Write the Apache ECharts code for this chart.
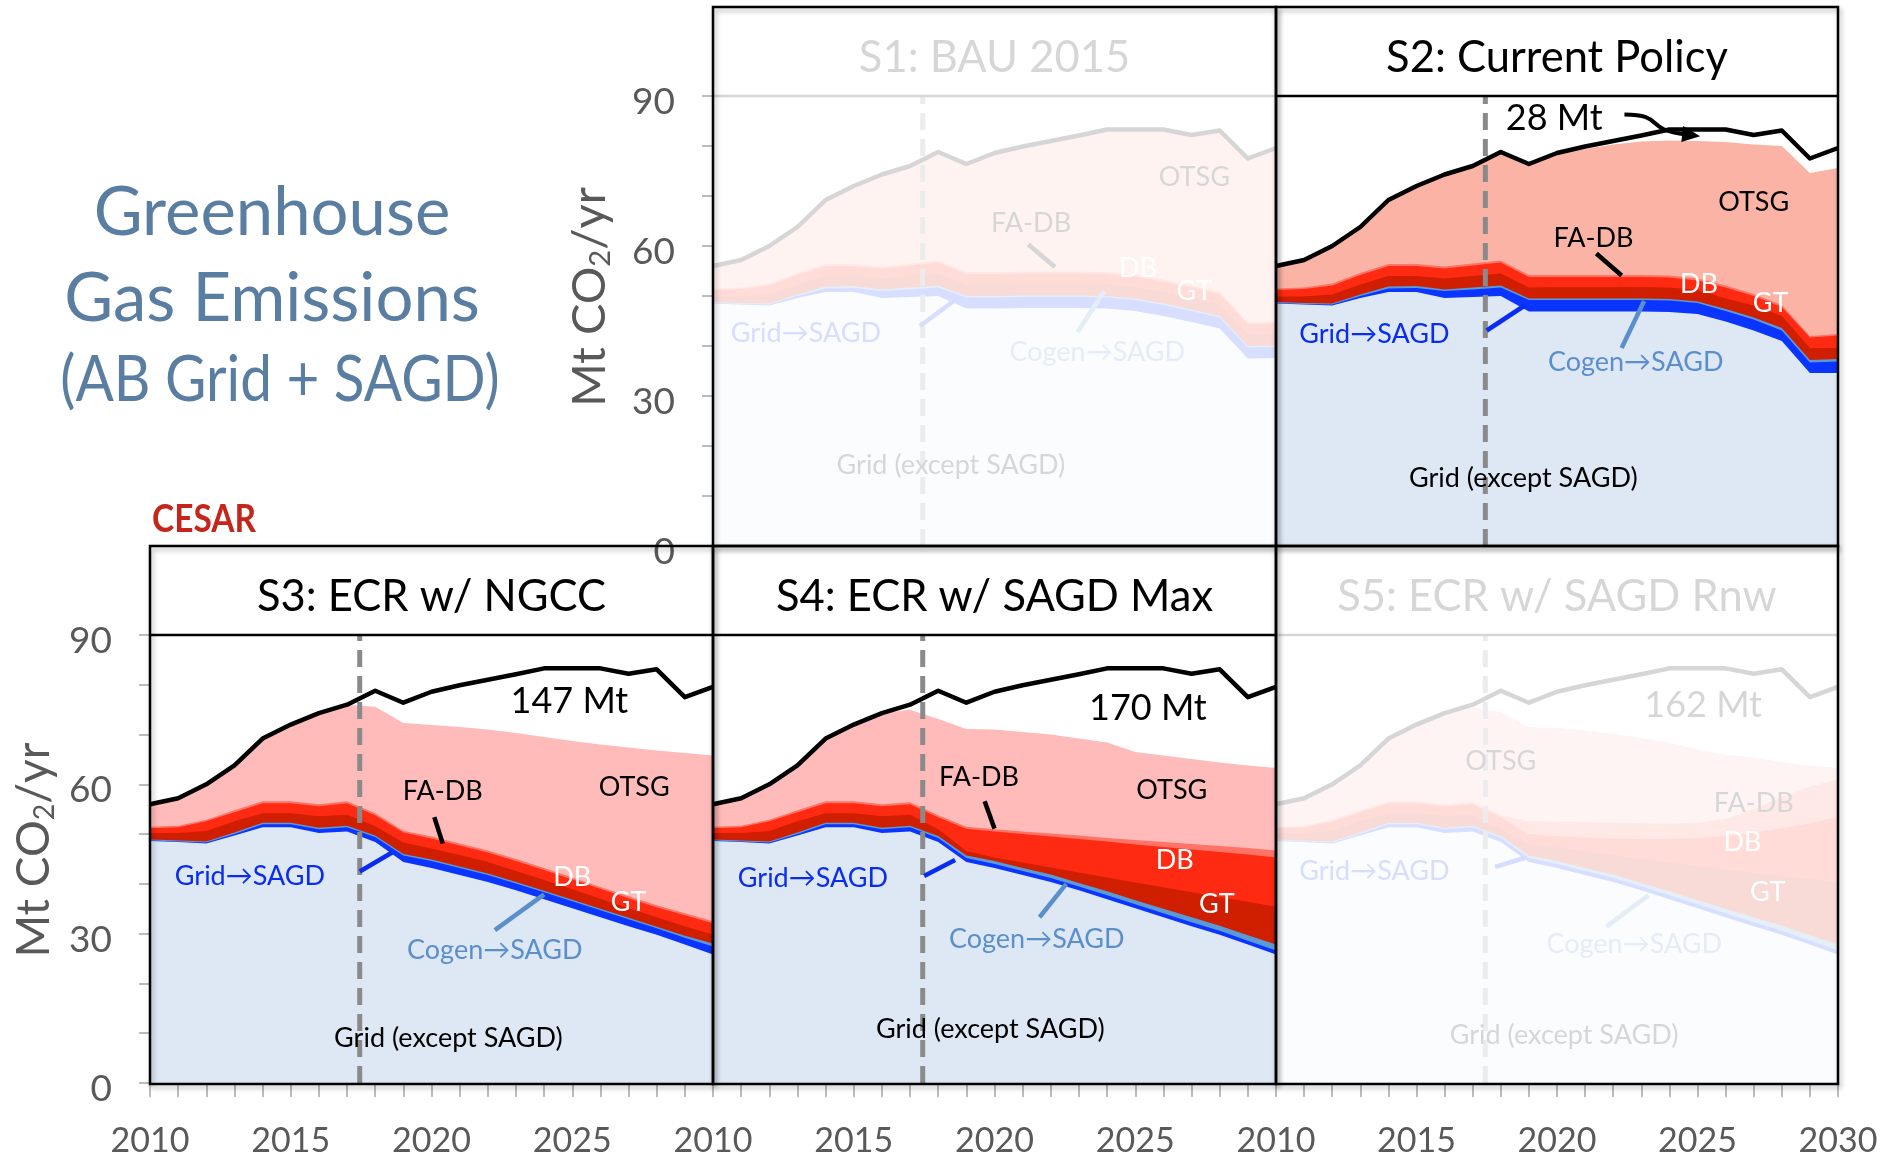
<!DOCTYPE html>
<html>
<head>
<meta charset="utf-8">
<script src="https://cdn.jsdelivr.net/npm/echarts/dist/echarts.min.js"></script>
<style>
  html, body { margin: 0; padding: 0; background: #fff; }
  #chart { width: 1898px; height: 1158px; }
</style>
</head>
<body>
<div id="chart"></div>
<script>
// years on the x axis
const years = [2010, 2011, 2012, 2013, 2014, 2015, 2016, 2017, 2018, 2019, 2020,
  2021, 2022, 2023, 2024, 2025, 2026, 2027, 2028, 2029, 2030]
const cutoverYear = 2017.45

// BAU total (black line, same in every panel)
const bauTotal = [56.0, 57.2, 60.0, 63.8, 69.2, 72.0, 74.3, 76.0, 78.8, 76.4, 78.6, 79.9, 81.0, 82.1, 83.3, 83.3, 83.3, 82.2, 83.1, 77.5, 79.6]

// top edge of each band (Mt CO2/yr), bottom band first
// S1: BAU 2015
const s1Grid = [48.5, 48.3, 48.1, 49.6, 50.8, 50.8, 49.6, 49.8, 50.0, 47.5, 47.5, 47.6, 47.6, 47.6, 47.5, 47.0, 46.0, 44.8, 43.5, 37.5, 37.6]
const s1GridSagd = [48.6, 48.4, 48.3, 50.0, 51.5, 51.6, 51.0, 51.3, 51.7, 49.7, 49.7, 49.8, 49.8, 49.8, 49.7, 49.2, 48.2, 47.0, 45.7, 39.7, 39.8]
const s1Cogen = [48.8, 48.6, 48.5, 50.3, 51.9, 52.0, 51.3, 51.7, 52.1, 50.0, 50.0, 50.1, 50.1, 50.1, 50.0, 49.5, 48.5, 47.3, 46.0, 40.0, 40.1]
const s1Gt = [49.9, 49.9, 50.3, 52.3, 54.0, 54.0, 53.5, 54.0, 54.5, 52.3, 52.3, 52.4, 52.4, 52.4, 52.3, 51.8, 50.8, 49.6, 48.3, 42.3, 42.4]
const s1Db = [51.2, 51.4, 52.1, 54.2, 56.0, 56.0, 55.5, 56.1, 56.7, 54.4, 54.4, 54.5, 54.5, 54.5, 54.4, 53.9, 52.9, 51.7, 50.4, 44.4, 44.5]
const s1Fadb = [51.5, 51.7, 52.5, 54.6, 56.4, 56.4, 55.9, 56.5, 57.1, 54.8, 54.8, 54.9, 54.9, 54.9, 54.8, 54.3, 53.3, 52.1, 50.8, 44.8, 44.9]
const s1Otsg = [56.0, 57.2, 60.0, 63.8, 69.2, 72.0, 74.3, 76.0, 78.8, 76.4, 78.6, 79.9, 81.0, 82.1, 83.3, 83.3, 83.3, 82.2, 83.1, 77.5, 79.6]

// S2: Current Policy
const s2Grid = [48.5, 48.3, 48.1, 49.6, 50.8, 50.8, 49.6, 49.8, 50.0, 46.9, 46.9, 46.9, 46.9, 46.9, 46.8, 46.4, 44.9, 43.1, 41.0, 34.6, 34.6]
const s2GridSagd = [48.6, 48.4, 48.3, 50.0, 51.5, 51.6, 51.0, 51.3, 51.7, 49.2, 49.2, 49.2, 49.2, 49.2, 49.1, 48.6, 47.0, 45.3, 43.1, 36.7, 36.9]
const s2Cogen = [48.8, 48.6, 48.5, 50.3, 51.9, 52.0, 51.3, 51.7, 52.1, 49.5, 49.5, 49.5, 49.5, 49.5, 49.4, 48.9, 47.4, 45.7, 43.6, 37.2, 37.4]
const s2Gt = [49.9, 49.9, 50.3, 52.3, 54.0, 54.0, 53.5, 54.0, 54.5, 51.7, 51.8, 51.8, 51.8, 51.8, 51.7, 51.2, 49.5, 48.1, 46.0, 39.6, 39.6]
const s2Db = [51.2, 51.4, 52.1, 54.2, 56.0, 56.0, 55.5, 56.1, 56.7, 53.8, 53.8, 53.8, 53.8, 53.8, 53.7, 53.1, 51.7, 50.0, 47.8, 41.7, 42.1]
const s2Fadb = [51.5, 51.7, 52.5, 54.6, 56.4, 56.4, 55.9, 56.5, 57.1, 54.2, 54.2, 54.2, 54.2, 54.2, 54.1, 53.5, 52.1, 50.4, 48.2, 42.0, 42.4]
const s2Otsg = [56.0, 57.2, 60.0, 63.8, 69.2, 72.0, 74.3, 76.0, 78.8, 76.2, 78.3, 79.4, 80.3, 80.9, 81.1, 81.0, 80.8, 80.3, 80.0, 74.6, 75.6]

// S3: ECR w/ NGCC
const s3Grid = [48.6, 48.4, 48.1, 49.7, 51.4, 51.4, 50.2, 50.5, 48.4, 44.4, 43.2, 41.8, 40.4, 38.7, 36.9, 35.1, 33.3, 31.5, 29.8, 27.8, 25.8]
const s3GridSagd = [48.7, 48.5, 48.3, 50.0, 52.0, 52.0, 51.0, 51.4, 49.4, 45.7, 44.6, 43.2, 41.8, 40.1, 38.3, 36.5, 34.7, 32.9, 31.1, 29.2, 27.4]
const s3Cogen = [48.9, 48.7, 48.5, 50.3, 52.3, 52.3, 51.3, 51.7, 49.7, 46.0, 44.9, 43.5, 42.1, 40.4, 38.6, 36.8, 35.0, 33.2, 31.4, 29.6, 28.0]
const s3Gt = [50.2, 50.2, 50.6, 52.6, 54.2, 54.2, 53.6, 53.9, 51.6, 48.3, 47.1, 45.8, 44.4, 42.6, 40.8, 38.9, 37.0, 35.1, 33.3, 31.5, 29.8]
const s3Db = [51.2, 51.4, 52.6, 54.4, 56.2, 56.2, 55.6, 56.2, 53.8, 50.3, 49.1, 47.7, 46.3, 44.6, 42.8, 40.9, 39.0, 37.1, 35.3, 33.7, 32.1]
const s3Fadb = [51.5, 51.7, 52.9, 54.8, 56.6, 56.6, 56.0, 56.6, 54.2, 50.7, 49.5, 48.1, 46.7, 45.0, 43.2, 41.3, 39.4, 37.5, 35.7, 34.1, 32.5]
const s3Otsg = [56.0, 57.2, 60.0, 63.8, 69.2, 72.0, 74.3, 76.0, 75.6, 72.3, 71.9, 71.5, 71.0, 70.3, 69.5, 68.7, 68.0, 67.4, 66.8, 66.3, 65.8]

// S4: ECR w/ SAGD Max
const s4Grid = [48.6, 48.4, 48.1, 49.7, 51.4, 51.4, 50.2, 50.5, 48.4, 44.4, 43.2, 41.8, 40.4, 38.7, 36.9, 35.1, 33.3, 31.5, 29.8, 27.8, 25.8]
const s4GridSagd = [48.7, 48.5, 48.3, 50.0, 52.0, 52.0, 51.0, 51.4, 49.2, 45.2, 44.0, 42.6, 41.2, 39.5, 37.7, 35.9, 34.1, 32.3, 30.6, 28.6, 26.6]
const s4Cogen = [48.9, 48.7, 48.5, 50.3, 52.3, 52.3, 51.3, 51.7, 49.6, 45.7, 44.6, 43.2, 41.9, 40.2, 38.5, 36.7, 35.0, 33.3, 31.6, 29.7, 27.8]
const s4Gt = [50.2, 50.2, 50.6, 52.6, 54.2, 54.2, 53.6, 53.9, 51.0, 46.6, 45.3, 44.3, 43.3, 42.3, 41.3, 40.3, 39.3, 38.3, 37.3, 36.4, 35.4]
const s4Db = [51.2, 51.4, 52.6, 54.4, 56.2, 56.2, 55.6, 56.0, 53.4, 51.1, 50.5, 50.0, 49.5, 49.0, 48.5, 47.9, 47.4, 46.9, 46.4, 45.9, 45.3]
const s4Fadb = [51.5, 51.7, 52.9, 54.8, 56.6, 56.6, 56.0, 56.4, 53.8, 51.5, 51.0, 50.5, 50.1, 49.7, 49.2, 48.8, 48.4, 48.0, 47.6, 47.2, 46.7]
const s4Otsg = [56.0, 57.2, 60.0, 63.8, 69.2, 72.0, 74.3, 75.0, 73.1, 71.1, 71.0, 70.5, 70.0, 69.2, 68.4, 66.5, 65.8, 65.1, 64.4, 63.8, 63.3]

// S5: ECR w/ SAGD Rnw
const s5Grid = [48.6, 48.4, 48.1, 49.7, 51.4, 51.4, 50.2, 50.5, 48.4, 44.4, 43.2, 41.8, 40.4, 38.7, 36.9, 35.1, 33.3, 31.5, 29.8, 27.8, 25.8]
const s5GridSagd = [48.7, 48.5, 48.3, 50.0, 52.0, 52.0, 51.0, 51.4, 49.2, 45.2, 44.0, 42.6, 41.2, 39.5, 37.7, 35.9, 34.1, 32.3, 30.6, 28.6, 26.6]
const s5Cogen = [48.9, 48.7, 48.5, 50.3, 52.3, 52.3, 51.3, 51.7, 49.6, 45.7, 44.6, 43.2, 41.9, 40.2, 38.5, 36.7, 35.0, 33.3, 31.6, 29.7, 27.8]
const s5Gt = [50.2, 50.2, 50.6, 52.6, 54.2, 54.2, 53.6, 53.9, 51.0, 48.0, 47.3, 46.5, 45.8, 45.0, 44.3, 43.6, 42.9, 42.2, 41.6, 41.0, 40.4]
const s5Db = [51.2, 51.4, 52.6, 54.4, 56.2, 56.2, 55.6, 56.0, 53.4, 50.0, 49.6, 49.3, 49.1, 49.0, 49.0, 49.2, 49.6, 50.3, 51.2, 52.2, 53.4]
const s5Fadb = [51.5, 51.7, 52.9, 54.8, 56.6, 56.6, 56.0, 56.4, 53.8, 52.6, 52.5, 52.4, 52.3, 52.2, 52.1, 52.3, 53.0, 55.0, 57.5, 59.5, 61.0]
const s5Otsg = [56.0, 57.2, 60.0, 63.8, 69.2, 72.0, 74.3, 75.5, 74.5, 71.5, 71.3, 70.8, 70.2, 69.3, 68.4, 67.0, 66.0, 65.4, 64.5, 63.8, 63.3]

const F = 'Lato, "Open Sans", sans-serif'
const GRAY = '#595959'
const BLUE = '#0a2cf0'
const STEEL = '#5b8fcb'

const panels = [
  { title: 'S1: BAU 2015', faded: true, row: 0, box: [713, 7, 563, 539],
    levels: [s1Otsg, s1Fadb, s1Db, s1Gt, s1Cogen, s1GridSagd, s1Grid], pink: '#fbb3a6' },
  { title: 'S2: Current Policy', faded: false, row: 0, box: [1276, 7, 562, 539],
    levels: [s2Otsg, s2Fadb, s2Db, s2Gt, s2Cogen, s2GridSagd, s2Grid], pink: '#fbb3a6' },
  { title: 'S3: ECR w/ NGCC', faded: false, row: 1, box: [150, 546, 563, 538],
    levels: [s3Otsg, s3Fadb, s3Db, s3Gt, s3Cogen, s3GridSagd, s3Grid], pink: '#ffbaba' },
  { title: 'S4: ECR w/ SAGD Max', faded: false, row: 1, box: [713, 546, 563, 538],
    levels: [s4Otsg, s4Fadb, s4Db, s4Gt, s4Cogen, s4GridSagd, s4Grid], pink: '#ffbaba' },
  { title: 'S5: ECR w/ SAGD Rnw', faded: true, row: 1, box: [1276, 546, 562, 538],
    levels: [s5Otsg, s5Fadb, s5Db, s5Gt, s5Cogen, s5GridSagd, s5Grid], pink: '#ffbaba' },
]
const titleBoxH = 89

// band colours, same order as levels (top band first)
const bandColors = (pink) => [pink, '#ff7466', '#ff2a12', '#d01e00', '#5b9bd5', '#0a34ff', '#dee8f5']

// text annotations [panel, text, year, value, colour, size]
const notes = [
  [0, 'OTSG', 2027.1, 73.7, '#000', 27], [0, 'FA-DB', 2021.3, 64.5, '#000', 27],
  [0, 'DB', 2025.1, 55.6, '#fff', 27], [0, 'GT', 2027.1, 51.0, '#fff', 27],
  [0, 'Grid→SAGD', 2013.3, 42.6, BLUE, 27], [0, 'Cogen→SAGD', 2023.65, 38.8, STEEL, 27],
  [0, 'Grid (except SAGD)', 2018.45, 16.2, '#000', 27],

  [1, '28 Mt', 2019.9, 85.6, '#000', 36], [1, 'OTSG', 2027.0, 68.8, '#000', 27],
  [1, 'FA-DB', 2021.3, 61.5, '#000', 27], [1, 'DB', 2025.05, 52.4, '#fff', 27],
  [1, 'GT', 2027.6, 48.5, '#fff', 27], [1, 'Grid→SAGD', 2013.5, 42.4, BLUE, 27],
  [1, 'Cogen→SAGD', 2022.8, 36.7, STEEL, 27], [1, 'Grid (except SAGD)', 2018.8, 13.5, '#000', 27],

  [2, '147 Mt', 2024.9, 76.6, '#000', 36], [2, 'OTSG', 2027.2, 59.5, '#000', 27],
  [2, 'FA-DB', 2020.4, 58.7, '#000', 27], [2, 'DB', 2025.0, 41.4, '#fff', 27],
  [2, 'GT', 2027.0, 36.3, '#fff', 27], [2, 'Grid→SAGD', 2013.55, 41.6, BLUE, 27],
  [2, 'Cogen→SAGD', 2022.25, 26.6, STEEL, 27], [2, 'Grid (except SAGD)', 2020.6, 8.9, '#000', 27],

  [3, '170 Mt', 2025.45, 75.2, '#000', 36], [3, 'OTSG', 2026.3, 58.9, '#000', 27],
  [3, 'FA-DB', 2019.45, 61.4, '#000', 27], [3, 'DB', 2026.4, 44.8, '#fff', 27],
  [3, 'GT', 2027.9, 35.8, '#fff', 27], [3, 'Grid→SAGD', 2013.55, 41.2, BLUE, 27],
  [3, 'Cogen→SAGD', 2021.5, 28.8, STEEL, 27], [3, 'Grid (except SAGD)', 2019.85, 10.7, '#000', 27],

  [4, '162 Mt', 2025.2, 75.9, '#000', 36], [4, 'OTSG', 2018.0, 64.7, '#000', 27],
  [4, 'FA-DB', 2027.0, 56.2, '#000', 27], [4, 'DB', 2026.6, 48.3, '#fff', 27],
  [4, 'GT', 2027.5, 38.4, '#fff', 27], [4, 'Grid→SAGD', 2013.5, 42.6, BLUE, 27],
  [4, 'Cogen→SAGD', 2022.75, 27.8, STEEL, 27], [4, 'Grid (except SAGD)', 2020.25, 9.6, '#000', 27],
]

// leader lines [panel, from, to, colour]
const leaders = [
  [0, [2021.2, 60.3], [2022.15, 55.8], '#000'], [0, [2017.35, 44.0], [2018.6, 49.2], BLUE], [0, [2022.95, 42.8], [2023.9, 51.0], STEEL],
  [1, [2021.4, 58.5], [2022.3, 54.1], '#000'], [1, [2017.5, 43.1], [2018.85, 48.1], BLUE], [1, [2022.3, 39.6], [2023.1, 49.0], STEEL],
  [2, [2020.1, 53.4], [2020.4, 48.1], '#000'], [2, [2017.45, 42.5], [2018.6, 46.3], BLUE], [2, [2022.25, 30.7], [2024.0, 37.9], STEEL],
  [3, [2019.65, 56.6], [2020.0, 51.1], '#000'], [3, [2017.5, 41.6], [2018.6, 44.8], BLUE], [3, [2021.6, 33.3], [2022.55, 40.0], STEEL],
  [4, [2017.8, 43.4], [2018.9, 45.3], BLUE], [4, [2021.75, 31.4], [2023.25, 37.7], STEEL],
]

const chart = echarts.init(document.getElementById('chart'))

const grids = []
const xAxes = []
const yAxes = []
const series = []
panels.forEach((p, i) => {
  const [bx, by, bw, bh] = p.box
  grids.push({ left: bx, top: by + titleBoxH, width: bw, height: bh - titleBoxH })
  const bottom = p.row === 1
  const tickStyle = { color: '#a6a6a6', width: 1.5 }
  xAxes.push({
    gridIndex: i, type: 'value', min: 2010, max: 2030, interval: 5,
    axisLine: { show: false },
    axisTick: { show: bottom, length: 14, lineStyle: tickStyle },
    minorTick: { show: bottom, splitNumber: 5, length: 14, lineStyle: tickStyle },
    axisLabel: {
      show: bottom, margin: 41, fontSize: 34, color: GRAY, fontFamily: F, showMaxLabel: i === 4,
      formatter: (v) => String(v),
    },
    splitLine: { show: false },
  })
  const leftAxis = i === 0 || i === 2
  yAxes.push({
    gridIndex: i, type: 'value', min: 0, max: 90, interval: 30,
    axisLine: { show: false },
    axisTick: { show: leftAxis, length: 11, lineStyle: tickStyle },
    minorTick: { show: leftAxis, splitNumber: 3, length: 11, lineStyle: tickStyle },
    axisLabel: {
      show: leftAxis, margin: 38, color: GRAY,
      formatter: (v) => '{v|' + v + '}',
      rich: { v: { fontSize: 37, fontFamily: F, color: GRAY, padding: [12, 0, 0, 0] } },
    },
    splitLine: { show: false },
  })
  const colors = bandColors(p.pink)
  p.levels.forEach((arr, j) => {
    series.push({
      type: 'line', xAxisIndex: i, yAxisIndex: i, silent: true, symbol: 'none', z: 2,
      data: years.map((y, k) => [y, arr[k]]),
      lineStyle: { width: 0, opacity: 0 },
      areaStyle: { color: colors[j], opacity: 1 },
    })
  })
  series.push({
    type: 'line', xAxisIndex: i, yAxisIndex: i, silent: true, symbol: 'none', z: 3,
    data: [[cutoverYear, 0], [cutoverYear, 90]],
    lineStyle: { color: '#8a8a8a', width: 5, type: [17, 9] },
  })
  series.push({
    type: 'line', xAxisIndex: i, yAxisIndex: i, silent: true, symbol: 'none', z: 4,
    data: years.map((y, k) => [y, bauTotal[k]]),
    lineStyle: { color: '#000', width: 4.5, join: 'round' },
  })
})

chart.setOption({
  animation: false,
  backgroundColor: '#fff',
  grid: grids,
  xAxis: xAxes,
  yAxis: yAxes,
  series: series,
})

const px = (i, pt) => chart.convertToPixel({ gridIndex: i }, pt)
const graphics = []

// annotation text
notes.forEach(([i, text, x, y, color, size]) => {
  const p = px(i, [x, y])
  graphics.push({
    type: 'text', x: p[0], y: p[1], z: panels[i].faded ? 40 : 70, silent: true,
    style: { text, fill: color, fontSize: size, fontFamily: F, textAlign: 'center', textVerticalAlign: 'middle' },
  })
})
leaders.forEach(([i, a, b, color]) => {
  const p1 = px(i, a)
  const p2 = px(i, b)
  graphics.push({
    type: 'line', z: panels[i].faded ? 40 : 70, silent: true,
    shape: { x1: p1[0], y1: p1[1], x2: p2[0], y2: p2[1] },
    style: { stroke: color, lineWidth: 4.5 },
  })
})

// curved arrow next to "28 Mt"
const a0 = px(1, [2022.4, 86.3])
const a1 = px(1, [2023.9, 86.2])
const a2 = px(1, [2023.0, 83.4])
const a3 = px(1, [2024.6, 82.3])
graphics.push({
  type: 'bezierCurve', z: 70, silent: true,
  shape: { x1: a0[0], y1: a0[1], cpx1: a1[0], cpy1: a1[1], cpx2: a2[0], cpy2: a2[1], x2: a3[0], y2: a3[1] },
  style: { stroke: '#000', lineWidth: 4, fill: 'none' },
})
const ang = Math.atan2(a3[1] - a2[1], a3[0] - a2[0])
const tip = [a3[0] + 14 * Math.cos(ang), a3[1] + 14 * Math.sin(ang)]
graphics.push({
  type: 'polygon', z: 70, silent: true,
  shape: { points: [
    tip,
    [a3[0] - 4 * Math.cos(ang) + 8 * Math.sin(ang), a3[1] - 4 * Math.sin(ang) - 8 * Math.cos(ang)],
    [a3[0] - 4 * Math.cos(ang) - 8 * Math.sin(ang), a3[1] - 4 * Math.sin(ang) + 8 * Math.cos(ang)],
  ] },
  style: { fill: '#000' },
})

// panel titles, fade overlays and frames
panels.forEach((p, i) => {
  const [bx, by, bw, bh] = p.box
  graphics.push({
    type: 'text', x: bx + bw / 2, y: by + titleBoxH / 2 + 6, z: p.faded ? 40 : 70, silent: true,
    style: { text: p.title, fill: '#000', fontSize: 43.5, fontFamily: F, textAlign: 'center', textVerticalAlign: 'middle' },
  })
  graphics.push({
    type: 'line', z: p.faded ? 40 : 80, silent: true,
    shape: { x1: bx, y1: by + titleBoxH, x2: bx + bw, y2: by + titleBoxH },
    style: { stroke: '#000', lineWidth: 2.5 },
  })
  if (p.faded) {
    graphics.push({
      type: 'rect', z: 50, silent: true,
      shape: { x: bx + 1, y: by + 1, width: bw - 2, height: bh - 2 },
      style: { fill: 'rgba(255,255,255,0.84)' },
    })
  }
  graphics.push({
    type: 'rect', z: 80, silent: true,
    shape: { x: bx, y: by, width: bw, height: bh },
    style: { fill: 'none', stroke: '#000', lineWidth: 2.5, shadowBlur: 5, shadowColor: 'rgba(0,0,0,0.3)', shadowOffsetX: 2, shadowOffsetY: 3 },
  })
})

// axis names
const axisName = (x, y, size) => ({
  type: 'text', x, y, rotation: Math.PI / 2, z: 70, silent: true,
  style: {
    text: '{a|Mt CO}{s|2}{a|/yr}', textAlign: 'center', textVerticalAlign: 'middle',
    rich: {
      a: { fontSize: size, fontFamily: F, fill: GRAY, color: GRAY },
      s: { fontSize: size * 0.62, fontFamily: F, fill: GRAY, color: GRAY, padding: [size * 0.45, 0, 0, 0] },
    },
  },
})
graphics.push(axisName(590, 297, 47))
graphics.push(axisName(34, 850, 46))

// heading on the left
const heading = [['Greenhouse', 272, 213, 67, 1], ['Gas Emissions', 272, 299, 67, 1], ['(AB Grid + SAGD)', 280, 381, 63, 0.9]]
heading.forEach(([t, x, y, size, sx]) => {
  graphics.push({
    type: 'text', x, y, z: 70, silent: true, scaleX: sx,
    style: { text: t, fill: '#5a7ea1', fontSize: size, fontFamily: F, textAlign: 'center', textVerticalAlign: 'middle' },
  })
})
graphics.push({
  type: 'text', x: 204, y: 520, z: 70, silent: true, scaleX: 0.88,
  style: { text: 'CESAR', fill: '#c4261b', fontSize: 38, fontWeight: 'bold', fontFamily: F, textAlign: 'center', textVerticalAlign: 'middle' },
})

chart.setOption({ graphic: graphics })
</script>
</body>
</html>
